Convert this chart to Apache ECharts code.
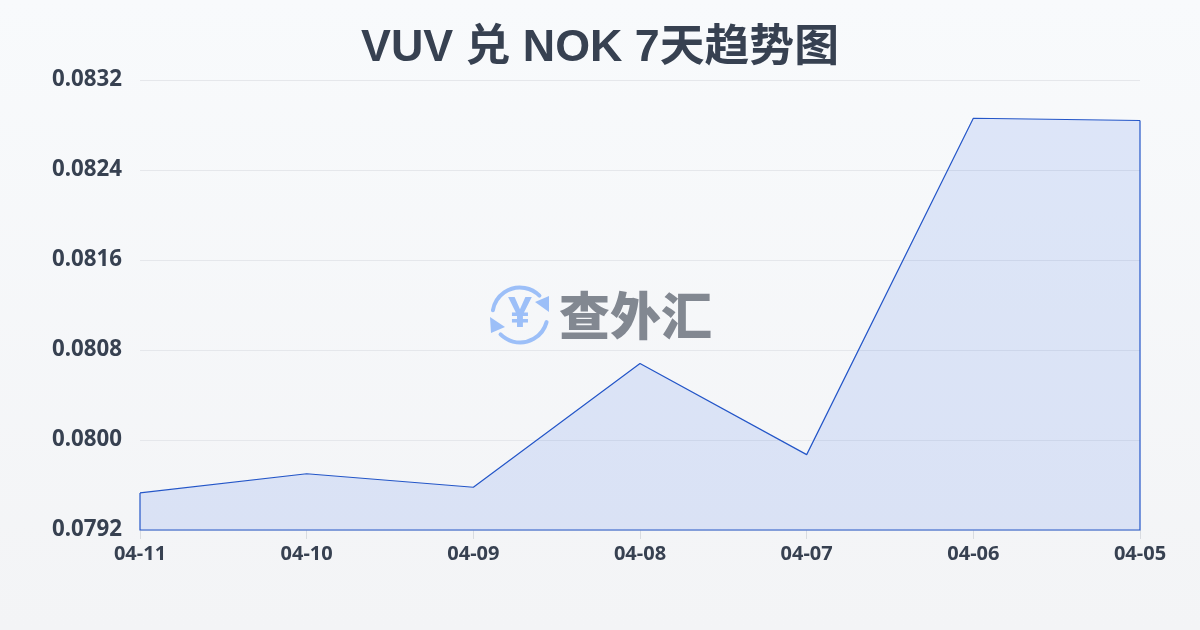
<!DOCTYPE html>
<html><head><meta charset="utf-8">
<style>html,body{margin:0;padding:0;width:1200px;height:630px;overflow:hidden;background:#f6f7fa}#c{width:1200px;height:630px}</style>
<script src="https://cdn.jsdelivr.net/npm/echarts@6/dist/echarts.min.js"></script>
</head><body><div id="c"></div>
<script>
const titleText = 'VUV 兑 NOK 7天趋势图';
const categories = ['04-11','04-10','04-09','04-08','04-07','04-06','04-05'];
const rates = [0.07953,0.07970,0.07958,0.08068,0.07987,0.08286,0.08284];
const yMin = 0.0792, yMax = 0.0832, yStep = 0.0008;
const watermarkText = '查外汇';
const LINE = '#2456c8', AREA = 'rgba(37,99,235,0.18)', INK = '#374151', ICON = '#9cbff8';
const deg = d => d * Math.PI / 180;
const chart = echarts.init(document.getElementById('c'), null, {renderer:'canvas'});
chart.setOption({
  animation:false,
  backgroundColor:{type:'linear',x:0,y:0,x2:0,y2:1,colorStops:[{offset:0,color:'#f8fafc'},{offset:1,color:'#f3f4f6'}]},
  title:{text:titleText,left:'center',top:21,textStyle:{fontFamily:'"Liberation Sans","Noto Sans CJK SC",sans-serif',fontSize:44.8,fontWeight:'bold',color:INK}},
  grid:{left:140,right:60,top:80,bottom:100,containLabel:false},
  xAxis:{type:'category',boundaryGap:false,data:categories,
    axisLine:{show:false},
    axisTick:{show:true,length:9,lineStyle:{color:'#d8dbe0'}},
    axisLabel:{show:true,color:INK,fontFamily:'"Noto Sans",sans-serif',fontWeight:'bold',fontSize:20,margin:14,interval:0,showMinLabel:true,showMaxLabel:true,alignMinLabel:'center',alignMaxLabel:'center'}},
  yAxis:{type:'value',min:yMin,max:yMax,interval:yStep,
    axisLine:{show:false},axisTick:{show:false},
    splitLine:{lineStyle:{color:'#e5e7eb',width:1}},
    axisLabel:{color:INK,fontFamily:'"Noto Sans",sans-serif',fontWeight:'bold',fontSize:22.3,margin:18,formatter:v=>v.toFixed(4)}},
  series:[
    {type:'line',data:rates,symbol:'none',smooth:false,lineStyle:{color:LINE,width:1.2},areaStyle:{color:AREA,origin:'start'},z:3},
    {type:'custom',coordinateSystem:'cartesian2d',data:[0],silent:true,z:4,
     renderItem:(p,api)=>{
       const n=rates.length-1;
       const a=api.coord([0,rates[0]]),b=api.coord([0,yMin]),c=api.coord([n,yMin]),d=api.coord([n,rates[n]]);
       return {type:'polyline',shape:{points:[a,b,c,d]},style:{stroke:LINE,lineWidth:1.2,fill:null}};
     }}
  ],
  graphic:{elements:[
    {type:'text',x:559,y:290,z:10,style:{text:watermarkText,fontFamily:'"Noto Sans CJK SC",sans-serif',fontWeight:900,fontSize:51,fill:'rgba(75,82,96,0.68)',verticalAlign:'top'}},
    {type:'arc',z:10,shape:{cx:520,cy:315,r:27.5,startAngle:deg(190),endAngle:deg(315),clockwise:true},style:{stroke:ICON,lineWidth:4,fill:null,lineCap:'round'}},
    {type:'arc',z:10,shape:{cx:520,cy:315,r:27.5,startAngle:deg(15),endAngle:deg(135),clockwise:true},style:{stroke:ICON,lineWidth:4,fill:null,lineCap:'round'}},
    {type:'polygon',z:10,shape:{points:[[535,302],[549,296],[549,312]]},style:{fill:ICON}},
    {type:'polygon',z:10,shape:{points:[[490,317],[505,327],[491,333]]},style:{fill:ICON}},
    {type:'text',x:520,y:315,z:10,style:{text:'¥',align:'center',verticalAlign:'middle',fontFamily:'"Noto Sans",sans-serif',fontWeight:'bold',fontSize:42,fill:ICON}}
  ]}
});
</script></body></html>
